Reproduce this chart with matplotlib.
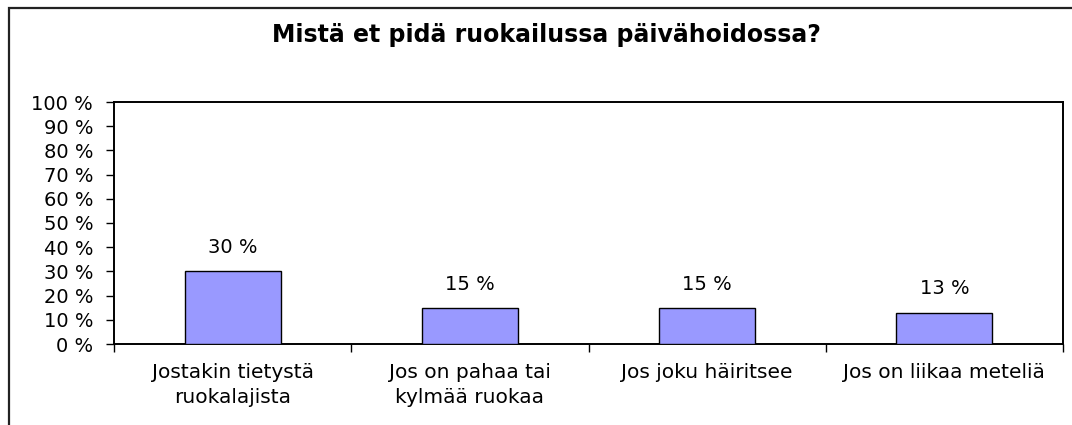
import matplotlib
matplotlib.use('Agg')
import matplotlib.pyplot as plt
from matplotlib.patches import Rectangle

categories = ["Jostakin tietystä\nruokalajista", "Jos on pahaa tai\nkylmää ruokaa",
              "Jos joku häiritsee", "Jos on liikaa meteliä"]
values = [30, 15, 15, 13]
yticks = list(range(0, 101, 10))
title = "Mistä et pidä ruokailussa päivähoidossa?"

plt.rcParams['font.family'] = ['DejaVu Sans']

W, H = 1072, 425
fig = plt.figure(figsize=(W / 100, H / 100), dpi=100)
ax = fig.add_axes([114 / W, 1 - 344 / H, 949 / W, 242 / H])

# outer chart border (right and bottom run off the image)
fig.patches.append(Rectangle((9 / W, -0.1), 1.1, 1 - 8 / H + 0.1, transform=fig.transFigure,
                             fill=False, edgecolor='#222222', linewidth=1.6))

x = list(range(len(categories)))
ax.bar(x, values, width=0.405, color='#9999FF', edgecolor='black', linewidth=1.0, zorder=3)
for xi, v in zip(x, values):
    ax.annotate(f"{v} %", (xi, v), xytext=(0, 13), textcoords='offset points',
                ha='center', va='baseline', fontsize=14)

ax.set_xlim(-0.5, len(categories) - 0.5)
ax.set_ylim(0, 100)
ax.set_yticks(yticks)
ax.set_yticklabels([f"{t} %" for t in yticks], fontsize=14)
ax.tick_params(axis='y', length=6, width=1, pad=9)

ax.set_xticks(x)
ax.set_xticklabels(categories, fontsize=14.5, linespacing=1.35)
ax.tick_params(axis='x', which='major', length=0, pad=14)
ax.set_xticks([i - 0.5 for i in range(len(categories) + 1)], minor=True)
ax.tick_params(axis='x', which='minor', length=6, width=1)

for s in ax.spines.values():
    s.set_linewidth(1.4)
    s.set_color('black')

fig.text(546 / W, 1 - 42 / H, title, ha='center', va='baseline', fontsize=17, fontweight='bold')

fig.savefig('out.png', dpi=100)
